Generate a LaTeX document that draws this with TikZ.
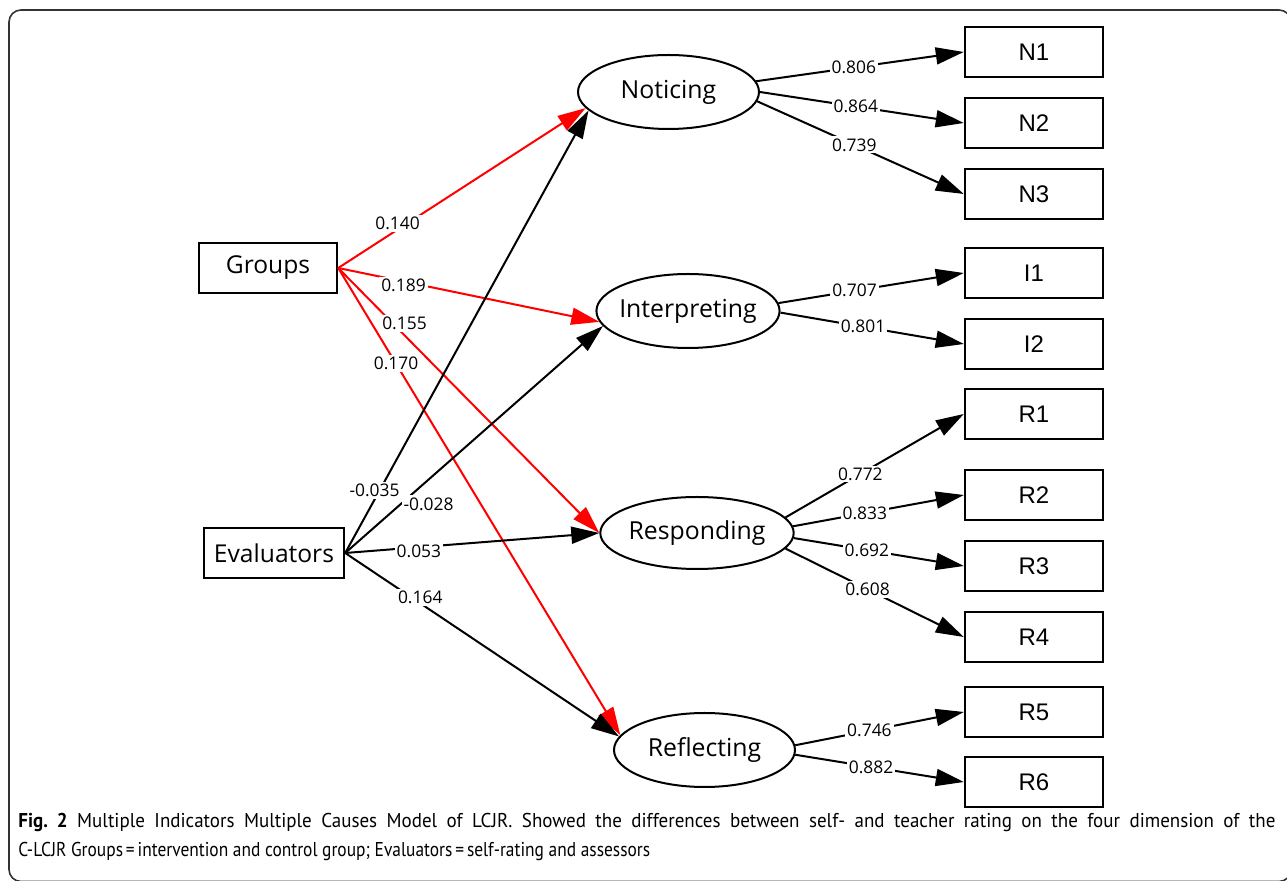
\documentclass[tikz,border=0pt]{standalone}
\usepackage{fontspec}
\setmainfont{Open Sans}
\newfontfamily\boxfont{Liberation Sans}
\newfontfamily\capfont{PT Sans}
\usetikzlibrary{arrows.meta}
\usetikzlibrary{shapes.geometric}

\begin{document}
\begin{tikzpicture}[x=0.5pt, y=-0.5pt,
		>={Triangle[length=14pt, width=8.5pt]},
		latent/.style={draw, ellipse, line width=1pt, minimum width=90.5pt, minimum height=37pt, inner sep=0pt, font=\fontsize{12.4}{14}\selectfont},
		obsbox/.style={draw, rectangle, line width=1.2pt, minimum width=69pt, minimum height=25pt, inner sep=0pt},
		causebox/.style={obsbox, font=\fontsize{12.3}{14}\selectfont},
		indbox/.style={obsbox, font=\boxfont\fontsize{12}{14}\selectfont},
		effect/.style={->, line width=1pt},
		coef/.style={fill=white, inner sep=1pt, font=\fontsize{8.7}{10}\selectfont},
		captext/.style={anchor=base west, inner sep=0pt, font=\capfont\fontsize{10}{12}\selectfont\frenchspacing}]
	\useasboundingbox (0,0) rectangle (1287,881);
	\draw[rounded corners=6pt, line width=0.8pt, black!80] (9,10) rectangle (1291,881.5);
	% causes
	\node[causebox] (groups) at (268,268) {Groups};
	\node[causebox, minimum width=70pt] (evaluators) at (274,553) {Evaluators};
	% latent dimensions
	\node[latent] (noticing) at (668.5,92) {Noticing};
	\node[latent, inner xsep=-2pt] (interpreting) at (688,311) {Interpreting};
	\node[latent, minimum height=36pt] (responding) at (697,533) {Responding};
	\node[latent] (reflecting) at (704.5,750) {Reflecting};
	% indicators
	\foreach \name/\y in {N1/52, N2/123, N3/194, I1/273, I2/344, R1/414, R2/495, R3/566, R4/637, R5/712, R6/782}{
		\node[indbox] (\name) at (1034,\y) {\name};
	}
	% groups -> dimensions
	\draw[effect, red] (groups.east) -- node[coef, pos=0.24, yshift=3pt, text=black] {0.140} (noticing.191);
	\draw[effect, red] (groups.east) -- node[coef, pos=0.25, yshift=-2pt, text=black] {0.189} (interpreting.187);
	\draw[effect, red] (groups.east) -- node[coef, pos=0.208, xshift=6pt, text=black] {0.155} (responding.west);
	\draw[effect, red] (groups.east) -- node[coef, pos=0.205, text=black] {0.170} (reflecting.170);
	% evaluators -> dimensions
	\draw[effect] (evaluators.east) -- node[coef, pos=0.141, xshift=-2.5pt] {-0.035} (noticing.193);
	\draw[effect] (evaluators.east) -- node[coef, pos=0.3, xshift=3pt, yshift=-9.5pt] {-0.028} (interpreting.190);
	\draw[effect] (evaluators.east) -- node[coef, pos=0.29, yshift=-2pt] {0.053} (responding.west);
	\draw[effect] (evaluators.east) -- node[coef, pos=0.274, yshift=3pt] {0.164} (reflecting.171);
	% loadings
	\foreach \from/\ang/\to/\val/\p in {noticing/7/N1/0.806/0.47, noticing/0/N2/0.864/0.47, noticing/354/N3/0.739/0.47,
			interpreting/5/I1/0.707/0.41, interpreting/359/I2/0.801/0.45,
			responding/10/R1/0.772/0.42, responding/4/R2/0.833/0.42, responding/357/R3/0.692/0.43, responding/350/R4/0.608/0.46,
			reflecting/3/R5/0.746/0.44, reflecting/357/R6/0.882/0.45}{
		\draw[effect] (\from.\ang) -- node[coef, pos=\p] {\val} (\to.west);
	}
	% caption
	\node[captext] (capA) at (18,828) {\scalebox{0.95}[1]{\makebox[661.6pt][s]{\textbf{Fig. 2} Multiple Indicators Multiple Causes Model of LCJR. Showed the differences between self- and teacher rating on the four dimension of the}}};
	\node[captext] (capB) at (18,857) {\scalebox{0.87}[1]{C-LCJR Groups\,=\,intervention and control group; Evaluators\,=\,self-rating and assessors}};
\end{tikzpicture}
\end{document}
